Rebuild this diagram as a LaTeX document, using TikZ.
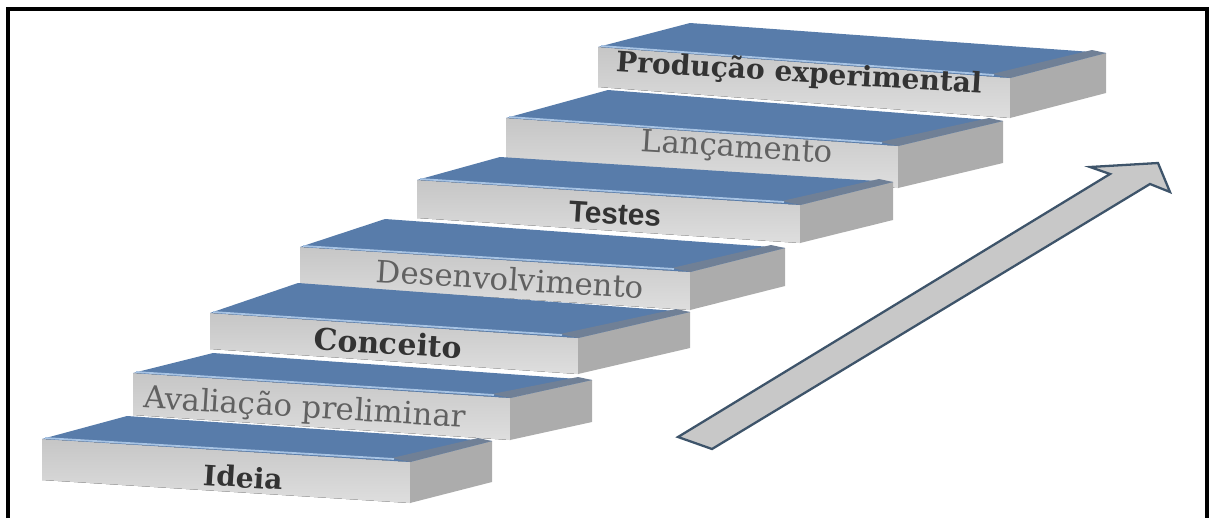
\documentclass[tikz,border=0pt]{standalone}
\usepackage{fontspec}
\setmainfont{DejaVu Serif}
\newfontfamily\labelsans{Liberation Sans}
\usetikzlibrary{calc}

\definecolor{stairtop}{RGB}{88,124,170}
\definecolor{stairedge}{RGB}{168,196,228}
\definecolor{stairbevel}{RGB}{112,128,150}
\definecolor{stairfront}{RGB}{222,222,222}
\definecolor{stairfrontdark}{RGB}{198,198,198}
\definecolor{stairside}{RGB}{172,172,172}
\definecolor{arrowline}{RGB}{62,84,106}
\definecolor{arrowfill}{RGB}{200,200,200}

% one stair: front-left top, front-right top, back-left, side top-right, height
\def\stair(#1)(#2)(#3)(#4)#5{%
  \fill[top color=stairfrontdark, bottom color=stairfront] (#1) -- (#2) -- ($(#2)+(0,#5)$) -- ($(#1)+(0,#5)$) -- cycle;
  \fill[stairside] (#2) -- (#4) -- ($(#4)+(0,#5)$) -- ($(#2)+(0,#5)$) -- cycle;
  \fill[stairtop] (#1) -- (#3) -- (#4) -- (#2) -- cycle;
  \fill[stairbevel] (#2) -- (#4) -- ($(#4)+(-14,-3)$) -- ($(#2)+(-18,-4)$) -- cycle;
  \draw[stairedge, line width=1pt] ($(#1)+(3,-1)$) -- ($(#2)+(-16,-3)$);
}

\tikzset{
  steplabel/.style={rotate=-3.5, inner sep=0pt, text=black!80},
  softlabel/.style={steplabel, text=black!62},
}

\begin{document}
\begin{tikzpicture}[x=0.02cm, y=-0.02cm]
  \useasboundingbox (0,0) rectangle (1211,518);

  %%%%% stairs, top one first %%%%%
  \stair(598,47)(1010,78)(690,23)(1106,53){40}
  \stair(506,118)(898,146)(608,90)(1003,121){42}
  \stair(417,180)(800,205)(500,157)(893,182){38}
  \stair(300,247)(690,272)(385,219)(785,248){38}
  \stair(210,313)(578,338)(298,283)(690,312){36}
  \stair(133,373)(510,398)(213,353)(592,380){42}
  \stair(42,439)(410,462)(127,416)(492,441){41}

  \node[steplabel] (producao) at (799,74) {\fontsize{16}{18}\selectfont\bfseries Produção experimental};
  \node[softlabel] (lancamento) at (737,149) {\fontsize{17.5}{19}\selectfont Lançamento};
  \node[steplabel] (testes) at (615,214) {\fontsize{17}{19}\selectfont\labelsans\bfseries Testes};
  \node[softlabel] (desenvolvimento) at (510,279) {\fontsize{17.5}{19}\selectfont Desenvolvimento};
  \node[steplabel] (conceito) at (388,343) {\fontsize{17}{19}\selectfont\bfseries Conceito};
  \node[softlabel] (avaliacao) at (305,409) {\fontsize{17.5}{19}\selectfont Avaliação preliminar};
  \node[steplabel] (ideia) at (243,477) {\fontsize{16}{18}\selectfont\bfseries Ideia};

  %%%%% arrow %%%%%
  \draw[arrowline, fill=arrowfill, line width=1.3pt, line join=miter]
    (678,437) -- (1110,174) -- (1090,167) -- (1158,163) -- (1170,192) -- (1150,184) -- (712,449) -- cycle;

  %%%%% frame %%%%%
  \draw[line width=2.3pt] (8,518) -- (8,9) -- (1207,9) -- (1207,518);
\end{tikzpicture}
\end{document}
